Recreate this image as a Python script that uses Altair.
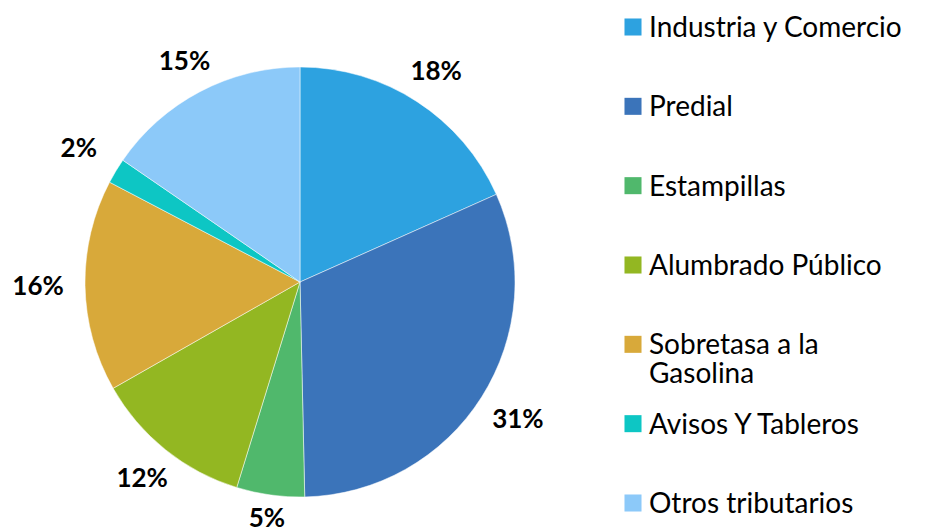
import altair as alt
import pandas as pd

categories = ["Industria y Comercio", "Predial", "Estampillas", "Alumbrado Público",
              "Sobretasa a la Gasolina", "Avisos Y Tableros", "Otros tributarios"]
legend_labels = ["Industria y Comercio", "Predial", "Estampillas", "Alumbrado Público",
                 "Sobretasa a la\nGasolina", "Avisos Y Tableros", "Otros tributarios"]
values = [18.3, 31.3, 5.1, 12.0, 15.9, 1.9, 15.4]
pct_labels = ["18%", "31%", "5%", "12%", "16%", "2%", "15%"]
colors = ["#2DA2E0", "#3B74BA", "#50B86C", "#93B722", "#D8A93A", "#0DC6C4", "#8CC9F9"]

df = pd.DataFrame({
    "cat": categories,
    "legend": legend_labels,
    "value": values,
    "pct": pct_labels,
    "idx": list(range(len(categories))),
})

FONT = "Lato"
CX, CY, R = 292, 274, 215

color = alt.Color("cat:N", scale=alt.Scale(domain=categories, range=colors), legend=None)
order = alt.Order("idx:Q")

base = alt.Chart(df)

pie = base.mark_arc(outerRadius=R, stroke="white", strokeWidth=0.5).encode(
    theta=alt.Theta("value:Q", stack=True),
    color=color,
    order=order,
    x=alt.value(CX),
    y=alt.value(CY),
)

labels = base.transform_window(
    cum="sum(value)", sort=[alt.SortField("idx")], frame=[None, 0]
).transform_joinaggregate(
    total="sum(value)"
).transform_calculate(
    mid="(datum.cum - datum.value / 2) / datum.total * 2 * PI",
    rad="236 + 26 * abs(sin(datum.mid))",
).mark_text(font=FONT, fontSize=26, fontWeight="bold", color="black",
            align="center", baseline="middle").encode(
    theta=alt.Theta("mid:Q", scale=None, stack=False),
    radius=alt.Radius("rad:Q", scale=None),
    text="pct:N",
    x=alt.value(CX),
    y=alt.value(CY),
)

yscale = alt.Scale(type="point", domain=categories, range=[19, 495], padding=0)

leg_sq = base.mark_square(size=290, opacity=1, filled=True).encode(
    y=alt.Y("cat:N", scale=yscale, axis=None),
    x=alt.value(625),
    color=color,
)

leg_txt = base.mark_text(font=FONT, fontSize=28, color="black", align="left",
                         baseline="alphabetic", dy=10, lineBreak="\n",
                         lineHeight=29).encode(
    y=alt.Y("cat:N", scale=yscale, axis=None),
    x=alt.value(641),
    text="legend:N",
)

chart = alt.layer(pie, labels, leg_sq, leg_txt).properties(
    width=912, height=523, padding=0,
    autosize=alt.AutoSizeParams(type="none"),
).configure_view(stroke=None)

chart.save("out.html", embed_options={"renderer": "svg", "actions": False})
